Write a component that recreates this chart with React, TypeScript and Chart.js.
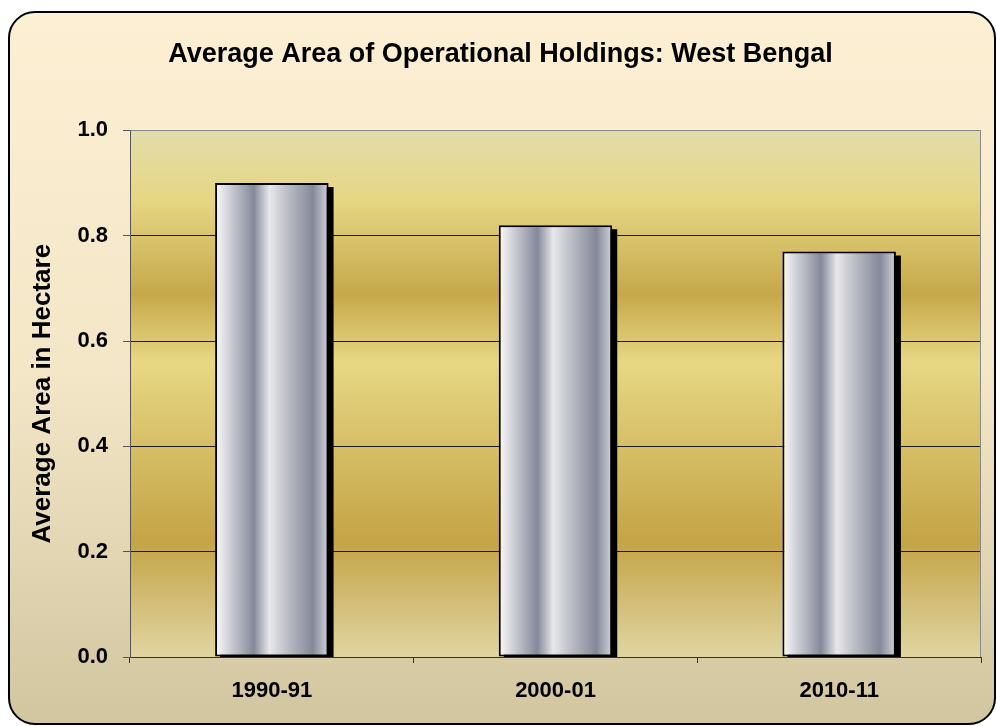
import React, { useEffect, useRef } from "react";
import { Chart, registerables } from "chart.js";

Chart.register(...registerables);

const categories = ["1990-91", "2000-01", "2010-11"];
const areaValues = [0.9, 0.82, 0.77];
const chartTitle = "Average Area of Operational Holdings: West Bengal";
const yAxisTitle = "Average Area in Hectare";

const FONT = "'Liberation Sans', Arial, Helvetica, sans-serif";

const decorPlugin = {
  id: "decor",
  beforeDraw(chart: any) {
    const { ctx, chartArea } = chart;
    const W = chart.width;
    const H = chart.height;
    ctx.save();
    const x0 = 9, y0 = 12, x1 = W - 2, y1 = H - 2, r = 26;
    ctx.beginPath();
    ctx.moveTo(x0 + r, y0);
    ctx.lineTo(x1 - r, y0);
    ctx.arcTo(x1, y0, x1, y0 + r, r);
    ctx.lineTo(x1, y1 - r);
    ctx.arcTo(x1, y1, x1 - r, y1, r);
    ctx.lineTo(x0 + r, y1);
    ctx.arcTo(x0, y1, x0, y1 - r, r);
    ctx.lineTo(x0, y0 + r);
    ctx.arcTo(x0, y0, x0 + r, y0, r);
    ctx.closePath();
    const g = ctx.createLinearGradient(0, y0, 0, y1);
    g.addColorStop(0, "#FDEFD3");
    g.addColorStop(0.5, "#F3E7C8");
    g.addColorStop(1, "#D2C6A0");
    ctx.fillStyle = g;
    ctx.fill();
    ctx.lineWidth = 2;
    ctx.strokeStyle = "#000";
    ctx.stroke();

    const { left, top, right, bottom } = chartArea;
    const pg = ctx.createLinearGradient(0, top, 0, bottom);
    pg.addColorStop(0, "#E3DCAB");
    pg.addColorStop(0.13, "#E6D784");
    pg.addColorStop(0.31, "#C6A84A");
    pg.addColorStop(0.44, "#E7D784");
    pg.addColorStop(0.78, "#C4A446");
    pg.addColorStop(1, "#E0D5A2");
    ctx.fillStyle = pg;
    ctx.fillRect(left, top, right - left, bottom - top);
    ctx.restore();
  },
  beforeDatasetsDraw(chart: any) {
    const { ctx, chartArea } = chart;
    const { left, top, right, bottom } = chartArea;
    ctx.save();
    ctx.strokeStyle = "#8a8a8a";
    ctx.lineWidth = 1;
    ctx.beginPath();
    ctx.moveTo(Math.round(right) - 0.5, top);
    ctx.lineTo(Math.round(right) - 0.5, bottom);
    ctx.stroke();

    const meta = chart.getDatasetMeta(0);
    ctx.beginPath();
    ctx.rect(left, top, right - left, bottom - top);
    ctx.clip();
    meta.data.forEach((el: any) => {
      const bx = el.x - el.width / 2;
      ctx.fillStyle = "#000";
      ctx.fillRect(bx + 5, el.y + 4, el.width, el.base - el.y);
      const bg = ctx.createLinearGradient(bx, 0, bx + el.width, 0);
      bg.addColorStop(0, "#FBFBFC");
      bg.addColorStop(0.1, "#D8D9DE");
      bg.addColorStop(0.34, "#84889A");
      bg.addColorStop(0.48, "#E8E8EB");
      bg.addColorStop(0.62, "#C0C2C9");
      bg.addColorStop(0.86, "#848899");
      bg.addColorStop(1, "#D2D4DA");
      if (el.options && !Object.isFrozen(el.options)) {
        el.options.backgroundColor = bg;
      }
    });
    ctx.restore();
  },
};

export default function App() {
  const ref = useRef<HTMLCanvasElement | null>(null);

  useEffect(() => {
    document.body.style.margin = "0";
    const canvas = ref.current;
    if (!canvas) return;
    const chart = new Chart(canvas, {
      type: "bar",
      data: {
        labels: categories,
        datasets: [
          {
            data: areaValues,
            backgroundColor: () => "#C8CAD0",
            borderColor: "#000",
            borderWidth: 2,
            borderSkipped: false,
            barPercentage: 0.4,
            categoryPercentage: 1.0,
          },
        ],
      },
      options: {
        responsive: false,
        animation: false,
        devicePixelRatio: 1,
        events: [],
        layout: { padding: { left: 20, right: 16, top: 12, bottom: 19 } },
        plugins: {
          legend: { display: false },
          tooltip: { enabled: false },
          title: {
            display: true,
            text: chartTitle,
            color: "#000",
            font: { family: FONT, size: 27, weight: "bold" },
            padding: { top: 26, bottom: 60 },
          },
        },
        scales: {
          x: {
            afterFit: (s: any) => {
              s.height = 50;
            },
            grid: {
              offset: true,
              drawOnChartArea: false,
              tickLength: 6,
              color: "#333",
            },
            border: { display: true, color: "#333", width: 1 },
            ticks: {
              color: "#000",
              padding: 15,
              font: { family: FONT, size: 22, weight: "bold" },
            },
          },
          y: {
            min: 0,
            max: 1,
            afterFit: (s: any) => {
              s.width = 110;
            },
            grid: {
              color: (c: any) => (c.tick && c.tick.value === 1 ? "#8a8a8a" : "#1a1a1a"),
              tickColor: "#555",
              tickLength: 7,
              lineWidth: 1,
            },
            border: { display: true, color: "#555", width: 1 },
            ticks: {
              stepSize: 0.2,
              color: "#000",
              padding: 15,
              font: { family: FONT, size: 22, weight: "bold" },
              callback: (v: any) => Number(v).toFixed(1),
            },
            title: {
              display: true,
              text: yAxisTitle,
              color: "#000",
              font: { family: FONT, size: 26, weight: "bold" },
              padding: { top: 7, bottom: 0 },
            },
          },
        },
      },
      plugins: [decorPlugin],
    } as any);
    return () => chart.destroy();
  }, []);

  return (
    <div style={{ width: 997, height: 726 }}>
      <canvas ref={ref} width={997} height={726} style={{ display: "block" }} />
    </div>
  );
}
